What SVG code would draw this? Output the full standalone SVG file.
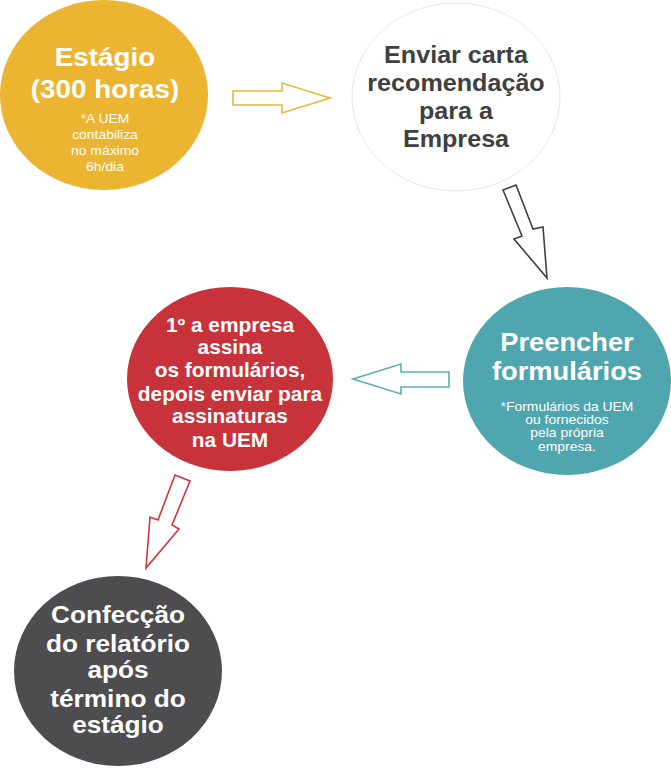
<svg xmlns="http://www.w3.org/2000/svg" width="671" height="768" viewBox="0 0 671 768">
<style>
text{font-family:"Liberation Sans",Arial,sans-serif;text-anchor:middle}
.b{font-weight:bold}
.w{fill:#ffffff}
.g{fill:#404040}
.arr{fill:#ffffff;stroke-width:1.6;stroke-linejoin:miter}
</style>
<rect width="671" height="768" fill="#ffffff"/>
<g id="connectors">
<polygon class="arr" stroke="#EDB53A" points="233,91 282,91 282,83 330,98 282,113 282,105 233,105"/>
<polygon class="arr" stroke="#404040" points="503,190 516,185 533,229 543,227 547,278 514,239 522,236"/>
<polygon class="arr" stroke="#5AAFB5" points="449,372 401,372 401,364 353,379 401,394 401,387 449,387"/>
<polygon class="arr" stroke="#D0343C" points="175,475 190,481 172,525 179,529 146,568 150,517 158,520"/>
</g>
<g id="n1">
<ellipse cx="104" cy="95" rx="104" ry="95" fill="#EBB532"/>
<g transform="translate(105,0) scale(1.07,1)" class="w">
<text class="b" font-size="26" y="66">Estágio</text>
<text class="b" font-size="26" y="98">(300 horas)</text>
<text font-size="13" y="123">*A UEM</text>
<text font-size="13" y="139">contabiliza</text>
<text font-size="13" y="155">no máximo</text>
<text font-size="13" y="171">6h/dia</text>
</g>
</g>
<g id="n2">
<ellipse cx="456" cy="97" rx="104" ry="94" fill="#ffffff" stroke="#e6e6e6" stroke-width="1"/>
<g transform="translate(456,0) scale(1.07,1)" class="g">
<text class="b" font-size="23.5" y="63">Enviar carta</text>
<text class="b" font-size="23.5" y="91">recomendação</text>
<text class="b" font-size="23.5" y="119">para a</text>
<text class="b" font-size="23.5" y="147">Empresa</text>
</g>
</g>
<g id="n3">
<ellipse cx="567" cy="381" rx="104" ry="94" fill="#4FA6AE"/>
<g transform="translate(567,0) scale(1.07,1)" class="w">
<text class="b" font-size="25.5" y="351">Preencher</text>
<text class="b" font-size="25.5" y="380">formulários</text>
<text font-size="13" y="411">*Formulários da UEM</text>
<text font-size="13" y="424">ou fornecidos</text>
<text font-size="13" y="437">pela própria</text>
<text font-size="13" y="451">empresa.</text>
</g>
</g>
<g id="n4">
<ellipse cx="230" cy="379" rx="103" ry="92" fill="#C8323A"/>
<g transform="translate(230,0) scale(1.07,1)" class="w">
<text class="b" font-size="19.5" y="332">1º a empresa</text>
<text class="b" font-size="19.5" y="354">assina</text>
<text class="b" font-size="19.5" y="377">os formulários,</text>
<text class="b" font-size="19.5" y="401">depois enviar para</text>
<text class="b" font-size="19.5" y="423">assinaturas</text>
<text class="b" font-size="19.5" y="447">na UEM</text>
</g>
</g>
<g id="n5">
<ellipse cx="118" cy="671" rx="104" ry="95" fill="#4D4D4F"/>
<g transform="translate(118,0) scale(1.07,1)" class="w">
<text class="b" font-size="24.5" y="623">Confecção</text>
<text class="b" font-size="24.5" y="652">do relatório</text>
<text class="b" font-size="24.5" y="678">após</text>
<text class="b" font-size="24.5" y="707">término do</text>
<text class="b" font-size="24.5" y="733">estágio</text>
</g>
</g>
</svg>
